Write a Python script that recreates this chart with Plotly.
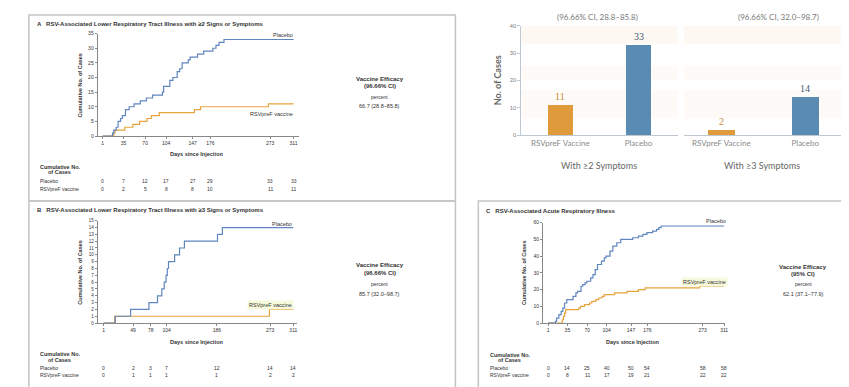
import plotly.graph_objects as go

W, H = 849, 387
def fx(px): return px / W
def fy(py): return 1 - py / H

# ---------------- DATA ----------------
# Panel A (>=2 signs/symptoms): step events (day, cumulative cases)
a_plc_days   = [17, 19, 23, 26, 30, 33, 38, 44, 52, 62, 72, 82, 98, 100, 110, 115, 122, 126, 130, 140, 143, 155, 165, 180, 185, 190, 198]
a_plc_counts = [1, 2, 3, 5, 6, 7, 9, 10, 11, 12, 13, 14, 15, 17, 19, 20, 22, 23, 25, 26, 27, 28, 29, 30, 31, 32, 33]
a_vac_days   = [19, 21, 37, 50, 61, 73, 80, 93, 150, 160, 270]
a_vac_counts = [1, 2, 3, 4, 5, 6, 7, 8, 9, 10, 11]
a_ticks      = [1, 35, 70, 104, 147, 176, 273, 311]
a_tab_plc    = [0, 7, 12, 17, 27, 29, 33, 33]
a_tab_vac    = [0, 2, 5, 8, 8, 10, 11, 11]

# Panel B (>=3 signs/symptoms)
b_plc_days   = [20, 45, 75, 89, 96, 100, 103, 105, 107, 117, 125, 133, 187, 195]
b_plc_counts = [1, 2, 3, 4, 5, 6, 7, 8, 9, 10, 11, 12, 13, 14]
b_vac_days   = [19, 272]
b_vac_counts = [1, 2]
b_ticks      = [1, 49, 78, 104, 186, 273, 311]
b_tab_plc    = [0, 2, 3, 7, 12, 14, 14]
b_tab_vac    = [0, 1, 1, 1, 1, 2, 2]

# Panel C (acute respiratory illness)
c_plc_days   = [14, 16, 20, 24, 27, 30, 34, 45, 50, 53, 59, 62, 66, 69, 76, 80, 84, 88, 95, 100, 103, 110, 115, 122, 129, 150, 160, 168, 175, 185, 192, 196, 200]
c_plc_counts = [1, 3, 5, 7, 9, 12, 14, 16, 18, 19, 22, 23, 24, 25, 27, 29, 32, 35, 37, 39, 40, 43, 46, 48, 50, 51, 52, 53, 54, 55, 56, 57, 58]
c_vac_days   = [26, 28, 30, 32, 55, 58, 65, 74, 78, 85, 90, 96, 100, 118, 140, 160, 172, 268]
c_vac_counts = [2, 4, 6, 8, 9, 10, 11, 12, 13, 14, 15, 16, 17, 18, 19, 20, 21, 22]
c_ticks      = [1, 35, 70, 104, 147, 176, 273, 311]
c_tab_plc    = [0, 14, 25, 40, 50, 54, 58, 58]
c_tab_vac    = [0, 8, 11, 17, 19, 21, 22, 22]

# Bar chart
bar_groups     = ["With ≥2 Symptoms", "With ≥3 Symptoms"]
bar_categories = ["RSVpreF Vaccine", "Placebo"]
bar_sym2       = [11, 33]
bar_sym3       = [2, 14]
bar_ci_texts   = ["(96.66% CI, 28.8–85.8)", "(96.66% CI, 32.0–98.7)"]

END_DAY = 311
BLUE = "#5f86bf"
ORANGE = "#e8a33d"
SANS = "Liberation Sans, Arial, sans-serif"
GREY_TXT = "#333333"

def steps(days, counts):
    return [1] + days + [END_DAY], [0] + counts + [counts[-1]]

fig = go.Figure()

# ---------------- KM-style panels ----------------
panels = [
    dict(ax="", xdom=(90, 292), day1px=95, scale=0.618, ydom=(127, 23), yr=35, ydt=5,
         plc=(a_plc_days, a_plc_counts), vac=(a_vac_days, a_vac_counts),
         ticks=a_ticks, tp=a_tab_plc, tv=a_tab_vac),
    dict(ax="2", xdom=(90, 290), day1px=96, scale=0.614, ydom=(317, 213), yr=15, ydt=1,
         plc=(b_plc_days, b_plc_counts), vac=(b_vac_days, b_vac_counts),
         ticks=b_ticks, tp=b_tab_plc, tv=b_tab_vac),
    dict(ax="3", xdom=(537, 720), day1px=542, scale=0.57, ydom=(317, 215), yr=60, ydt=10,
         plc=(c_plc_days, c_plc_counts), vac=(c_vac_days, c_vac_counts),
         ticks=c_ticks, tp=c_tab_plc, tv=c_tab_vac),
]

layout_axes = {}
for p in panels:
    sfx = p["ax"]
    xs, ys = steps(*p["vac"])
    fig.add_trace(go.Scatter(x=xs, y=ys, mode="lines", line=dict(shape="hv", color=ORANGE, width=1.2),
                             xaxis="x" + sfx, yaxis="y" + sfx, showlegend=False, cliponaxis=False,
                             hoverinfo="skip"))
    xs, ys = steps(*p["plc"])
    fig.add_trace(go.Scatter(x=xs, y=ys, mode="lines", line=dict(shape="hv", color=BLUE, width=1.2),
                             xaxis="x" + sfx, yaxis="y" + sfx, showlegend=False, cliponaxis=False,
                             hoverinfo="skip"))
    lo = 1 - (p["day1px"] - p["xdom"][0]) / p["scale"]
    hi = 1 + (p["xdom"][1] - p["day1px"]) / p["scale"]
    layout_axes["xaxis" + sfx] = dict(domain=[fx(p["xdom"][0]), fx(p["xdom"][1])], range=[lo, hi],
                                      anchor="y" + sfx, showgrid=False, zeroline=False, showline=True,
                                      linecolor="#888", linewidth=1, ticks="outside", ticklen=2,
                                      tickcolor="#888", tickvals=p["ticks"],
                                      tickfont=dict(size=5, family=SANS, color=GREY_TXT))
    layout_axes["yaxis" + sfx] = dict(domain=[fy(p["ydom"][0]), fy(p["ydom"][1])], range=[0, p["yr"]],
                                      anchor="x" + sfx, showgrid=False, zeroline=False, showline=True,
                                      linecolor="#888", linewidth=1, ticks="outside", ticklen=2,
                                      tickcolor="#888", dtick=p["ydt"], tick0=0,
                                      tickfont=dict(size=4.5 if p["ydt"] == 1 else 5, family=SANS, color=GREY_TXT))

# ---------------- Bar chart ----------------
BAR_OR = "#df9a3c"
BAR_BL = "#5a8bb2"
for i, (vals, sfx) in enumerate([(bar_sym2, "4"), (bar_sym3, "5")]):
    fig.add_trace(go.Bar(x=bar_categories, y=vals, marker=dict(color=[BAR_OR, BAR_BL], line=dict(width=0)),
                         width=0.32, xaxis="x" + sfx, yaxis="y" + sfx, showlegend=False, hoverinfo="skip"))

layout_axes["xaxis4"] = dict(domain=[fx(515), fx(672)], anchor="y4", range=[-0.5, 1.5], showgrid=False,
                             showline=True, linecolor="#bfc7d0", linewidth=1, ticks="",
                             tickfont=dict(size=8, family="Lato, sans-serif", color="#8a8a8a"))
layout_axes["xaxis5"] = dict(domain=[fx(678), fx(838)], anchor="y5", range=[-0.45, 1.45], showgrid=False,
                             showline=True, linecolor="#bfc7d0", linewidth=1, ticks="",
                             tickfont=dict(size=8, family="Lato, sans-serif", color="#8a8a8a"))
layout_axes["yaxis4"] = dict(domain=[fy(126), fy(15)], anchor="x4", range=[0, 40], dtick=10, showgrid=False,
                             zeroline=False, showline=True, linecolor="#bfc7d0", ticks="outside", ticklen=3,
                             tickcolor="#bfc7d0",
                             tickfont=dict(size=5.5, family="Lato, sans-serif", color="#777"))
layout_axes["yaxis5"] = dict(domain=[fy(126), fy(15)], anchor="x5", range=[0, 40], showgrid=False,
                             zeroline=False, showline=False, showticklabels=False)

shapes = []
# faint peach bands on bar chart
for sfx in ["4", "5"]:
    for (y0, y1, a) in [(33.5, 40, 0.32), (20, 25.5, 0.2), (6, 16.5, 0.2)]:
        shapes.append(dict(type="rect", xref="x" + sfx + " domain", yref="y" + sfx, x0=0, x1=1, y0=y0, y1=y1,
                           fillcolor="rgba(252,232,218,%s)" % a, line=dict(width=0), layer="below"))

# panel boxes
for (x0, y0, x1, y1) in [(21, 4, 449, 193), (21, 193, 449, 383), (472, 193, 847, 383)]:
    shapes.append(dict(type="rect", xref="paper", yref="paper", x0=fx(x0), x1=fx(x1), y0=fy(y1), y1=fy(y0),
                       line=dict(color="#c4c4c4", width=1.5), fillcolor="rgba(0,0,0,0)"))

ann = []
def txt(x, y, s, size=5.5, bold=False, xanchor="center", color=GREY_TXT, family=SANS, xref="paper", angle=0,
        bg=None):
    d = dict(x=x if xref != "paper" else fx(x), y=fy(y), xref=xref, yref="paper",
             text=("<b>%s</b>" % s) if bold else s, showarrow=False, xanchor=xanchor, yanchor="middle",
             font=dict(size=size, family=family, color=color), textangle=angle)
    if bg:
        d["bgcolor"] = bg
    ann.append(d)

# Titles
txt(27, 13, "A   RSV-Associated Lower Respiratory Tract Illness with ≥2 Signs or Symptoms", 6, True, "left")
txt(27, 202, "B   RSV-Associated Lower Respiratory Tract Illness with ≥3 Signs or Symptoms", 6, True, "left")
txt(478, 203, "C   RSV-Associated Acute Respiratory Illness", 6, True, "left")

# Y-axis titles
txt(72, 75, "Cumulative No. of Cases", 5.5, True, angle=-90)
txt(72, 265, "Cumulative No. of Cases", 5.5, True, angle=-90)
txt(518, 266, "Cumulative No. of Cases", 5.5, True, angle=-90)

# X-axis titles
txt(190, 145, "Days since Injection", 5.5, True)
txt(190, 336, "Days since Injection", 5.5, True)
txt(627, 336, "Days since Injection", 5.5, True)

# Curve labels
txt(288, 24, "Placebo", 5.5, False, "right")
txt(288, 105, "RSVpreF vaccine", 5.5, False, "right")
txt(287, 216, "Placebo", 5.5, False, "right")
txt(287, 299, "RSVpreF vaccine", 5.5, False, "right", bg="rgba(245,248,215,0.9)")
txt(723, 213, "Placebo", 5.5, False, "right")
txt(723, 275, "RSVpreF vaccine", 5.5, False, "right", bg="rgba(245,248,215,0.9)")

# Number-at-risk style tables
for p, (yh1, yh2, yp, yv, xl) in zip(panels, [(158, 164, 173, 181, 30), (348, 355, 363, 370, 30),
                                                (349, 355, 363, 370, 482)]):
    txt(xl, yh1, "Cumulative No.", 5.5, True, "left")
    txt(xl + 8, yh2, "of Cases", 5.5, True, "left")
    txt(xl, yp, "Placebo", 5, False, "left")
    txt(xl, yv, "RSVpreF vaccine", 5, False, "left")
    for t, vp, vv in zip(p["ticks"], p["tp"], p["tv"]):
        txt(t, yp, str(vp), 5, False, xref="x" + p["ax"])
        txt(t, yv, str(vv), 5, False, xref="x" + p["ax"])

# Vaccine efficacy blocks
for (cx, ys, ci, val) in [(373, (69, 76, 87, 97), "(96.66% CI)", "66.7 (28.8–85.8)"),
                          (373, (258, 266, 277, 287), "(96.66% CI)", "85.7 (32.0–98.7)"),
                          (798, (260, 267, 277, 287), "(95% CI)", "62.1 (37.1–77.9)")]:
    txt(cx, ys[0], "Vaccine Efficacy", 6, True)
    txt(cx, ys[1], ci, 6, True)
    txt(cx, ys[2], "percent", 5)
    txt(cx, ys[3], val, 5.5)

# Bar chart annotations
txt(592, 6, bar_ci_texts[0], 8, False, color="#777", family="Lato, sans-serif")
txt(773, 6, bar_ci_texts[1], 8, False, color="#777", family="Lato, sans-serif")
txt(492, 70, "No. of Cases", 9, True, color="#666", family="Lato, sans-serif", angle=-90)
txt(593, 157, bar_groups[0], 9, False, color="#666", family="Lato, sans-serif")
txt(757, 157, bar_groups[1], 9, False, color="#666", family="Lato, sans-serif")
for vals, sfx in [(bar_sym2, "4"), (bar_sym3, "5")]:
    for cat, v, col in zip(bar_categories, vals, ["#c98a2e", "#3f5a74"]):
        ann.append(dict(x=cat, y=v, xref="x" + sfx, yref="y" + sfx, text=str(v), showarrow=False,
                        yanchor="bottom", yshift=1,
                        font=dict(size=10, family="Liberation Serif, serif", color=col)))

fig.update_layout(width=W, height=H, margin=dict(l=0, r=0, t=0, b=0), paper_bgcolor="white",
                  plot_bgcolor="rgba(0,0,0,0)", shapes=shapes, annotations=ann, bargap=0,
                  **layout_axes)

fig.write_html("out.html")
